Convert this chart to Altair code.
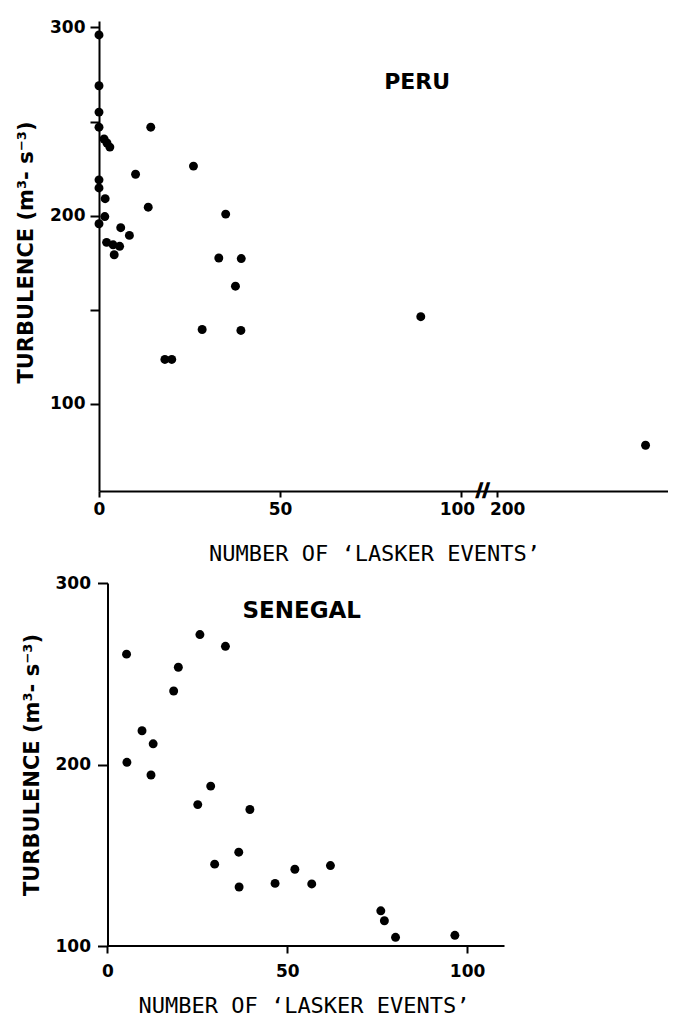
import altair as alt
import pandas as pd

# ---------------- data ----------------
peru_events = [0, 0, 0, 0, 14.3, 1.4, 2.2, 3.0, 10.1, 26.1, 0, 0, 1.7, 13.6, 35.0,
               1.6, 0, 6.0, 8.4, 2.1, 3.9, 5.7, 4.2, 33.1, 39.3, 37.7, 28.5, 39.2,
               18.2, 20.1, 88.9, 241]
peru_turb = [296, 269, 255, 247, 247, 240.7, 238.6, 236.4, 222, 226.3, 219, 214.7,
             209, 204.5, 200.8, 199.5, 195.7, 193.6, 189.5, 185.8, 184.5, 183.7,
             179.2, 177.5, 177.2, 162.5, 139.5, 139, 123.6, 123.6, 146.3, 78]

sen_events = [5.3, 5.4, 9.6, 12.7, 12.1, 18.4, 19.7, 25.7, 32.8, 25.1, 28.7, 39.6,
              36.5, 29.8, 36.6, 46.6, 52.1, 56.8, 62.0, 76.0, 77.0, 80.1, 96.6]
sen_turb = [260.8, 201.2, 218.6, 211.4, 194.2, 240.5, 253.6, 271.6, 265.1, 177.9,
            188.1, 175.2, 151.7, 145.1, 132.5, 134.5, 142.3, 134.2, 144.3, 119.4,
            113.9, 104.8, 105.9]

panel_labels = ["PERU", "SENEGAL"]
peru_x_ticks = [0, 50, 100, 110]          # 110 is the position of "200" after the break
peru_y_ticks = [100, 150, 200, 250, 300]
sen_x_ticks = [0, 50, 100]
sen_y_ticks = [100, 200, 300]

Y_TITLE = "TURBULENCE   (m³- s⁻³)"
X_TITLE = "NUMBER   OF   ‘LASKER   EVENTS’"

peru_df = pd.DataFrame({"events": peru_events, "turb": peru_turb})
sen_df = pd.DataFrame({"events": sen_events, "turb": sen_turb})

LABEL_FONT = "DejaVu Sans"
TITLE_FONT = "DejaVu Sans"
XTITLE_FONT = "DejaVu Sans Mono"


def y_axis(values, title_x, label_expr=None, tick=9, pad=5, offset=0, title_y=None):
    kw = dict(
        values=values, title=Y_TITLE, titleX=title_x, titleAngle=-90,
        titleBaseline="alphabetic", titleFont=TITLE_FONT, titleFontSize=21,
        titleFontWeight="bold", titleColor="black",
        labelFont=LABEL_FONT, labelFontSize=17, labelFontWeight="bold",
        labelColor="black", labelPadding=pad, tickSize=tick, tickWidth=2,
        tickColor="black", domainColor="black", domainWidth=2, grid=False,
        offset=offset,
    )
    if title_y is not None:
        kw["titleY"] = title_y
    if label_expr:
        kw["labelExpr"] = label_expr
    return alt.Axis(**kw)


def x_axis(values, title_x, title_y, label_expr=None, tick=6, pad=4, domain=True,
           label_offset=None):
    kw = dict(
        values=values, title=X_TITLE, titleX=title_x, titleY=title_y,
        titleBaseline="alphabetic", titleFont=XTITLE_FONT, titleFontSize=22,
        titleFontWeight="normal", titleColor="black",
        labelFont=LABEL_FONT, labelFontSize=17, labelFontWeight="bold",
        labelColor="black", labelPadding=pad, tickSize=tick, tickWidth=2,
        tickColor="black", domain=domain, domainColor="black", domainWidth=2,
        grid=False, labelFlush=False,
    )
    if label_expr:
        kw["labelExpr"] = label_expr
    if label_offset is not None:
        kw["labelOffset"] = label_offset
    return alt.Axis(**kw)


# ---------------- Peru panel (broken x axis) ----------------
px_scale = alt.Scale(domain=[0, 157.2], nice=False, zero=False)
py_scale = alt.Scale(domain=[53.7, 303.4], nice=False, zero=False)

peru_label_offset = {
    "condition": [
        {"test": "datum.value == 110", "value": 10},
        {"test": "datum.value == 100", "value": -4},
    ],
    "value": 0,
}

peru_pts = alt.Chart(peru_df).transform_calculate(
    pos="datum.events > 100 ? datum.events - 90 : datum.events"
).mark_circle(size=80, color="black", opacity=1, clip=False).encode(
    x=alt.X("pos:Q", scale=px_scale,
            axis=x_axis(peru_x_ticks, 275, 69,
                        "datum.value == 110 ? '200' : datum.label",
                        label_offset=peru_label_offset)),
    y=alt.Y("turb:Q", scale=py_scale,
            axis=y_axis(peru_y_ticks, -67,
                        "datum.value % 100 == 0 ? datum.label : ''", title_y=231)),
)

peru_lbl = alt.Chart(pd.DataFrame({"label": [panel_labels[0]]})).mark_text(
    font=TITLE_FONT, fontSize=22, fontWeight="bold", color="black",
    align="center", baseline="middle"
).encode(x=alt.datum(87.9), y=alt.datum(271.1), text="label:N")

peru_break = alt.Chart(pd.DataFrame({"label": ["//"]})).mark_text(
    font=TITLE_FONT, fontSize=18, fontWeight="bold", color="black",
    stroke="black", strokeWidth=1.3,
    align="center", baseline="middle", clip=False
).encode(x=alt.datum(106), y=alt.datum(53.7), text="label:N")

peru = alt.layer(peru_pts, peru_lbl, peru_break).properties(width=569, height=470)

# ---------------- Senegal panel ----------------
SEN_SHIFT = 8.5  # px the Senegal y axis sits right of the Peru one
sx_scale = alt.Scale(domain=[-SEN_SHIFT / 3.6, 110.4], nice=False, zero=False)
sy_scale = alt.Scale(domain=[100, 300], nice=False, zero=False)

sen_pts = alt.Chart(sen_df).mark_circle(
    size=80, color="black", opacity=1, clip=False
).encode(
    x=alt.X("events:Q", scale=sx_scale,
            axis=x_axis(sen_x_ticks, 204.5, 66, tick=7, pad=10, domain=False)),
    y=alt.Y("turb:Q", scale=sy_scale,
            axis=y_axis(sen_y_ticks, -69, tick=10, pad=7, offset=-SEN_SHIFT)),
)

sen_xline = alt.Chart(pd.DataFrame({"label": ["axis"]})).mark_rule(
    color="black", strokeWidth=2
).encode(x=alt.datum(0), x2=alt.datum(110.4), y=alt.datum(100))

sen_lbl = alt.Chart(pd.DataFrame({"label": [panel_labels[1]]})).mark_text(
    font=TITLE_FONT, fontSize=23, fontWeight="bold", color="black",
    align="center", baseline="middle"
).encode(x=alt.datum(54), y=alt.datum(284.6), text="label:N")

senegal = alt.layer(sen_xline, sen_pts, sen_lbl).properties(
    width=397 + SEN_SHIFT, height=363)

chart = alt.vconcat(peru, senegal, spacing=10).properties(
    padding={"left": 7, "top": 10, "right": 0, "bottom": 0},
    background="white",
).configure_view(stroke=None)

chart.save("out.html", embed_options={"renderer": "svg", "actions": False})
